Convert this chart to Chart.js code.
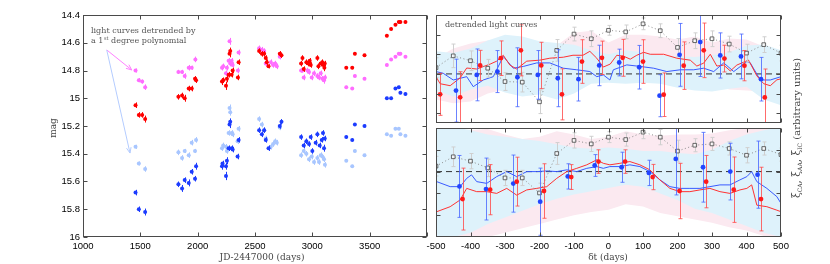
<!DOCTYPE html>
<html>
<head>
<meta charset="utf-8">
<script src="https://cdn.jsdelivr.net/npm/chart.js@4/dist/chart.umd.min.js"></script>
<style>
  body { margin: 0; background: #fff; width: 830px; height: 264px; overflow: hidden; }
  canvas { position: absolute; left: 0; top: 0; }
</style>
</head>
<body>
<canvas id="lightCurves" width="830" height="264"></canvas>
<canvas id="corrTop" width="830" height="264"></canvas>
<canvas id="corrBottom" width="830" height="264"></canvas>
<script>
// ---- left panel: light curves (JD-2447000, mag) ----
var JD_RED = [1458,1487,1516,1542,1832,1864,1887,1922,1948,1977,1986,2212,2223,2247,2255,2270,2278,2284,2296,2305,2351,2357,2536,2560,2580,2594,2603,2618,2716,2731,2902,2914,2925,2948,2966,2977,2986,3044,3053,3073,3087,3096,3105,3108,3296,3348,3371,3455,3650,3687,3725,3754,3768,3812];
var MAG_RED = [15.05,15.12,15.12,15.15,14.99,14.98,15.00,14.93,14.93,14.86,14.87,14.88,14.87,14.91,14.86,14.83,14.68,14.66,14.83,14.80,14.85,14.74,14.66,14.68,14.68,14.71,14.74,14.77,14.68,14.69,14.75,14.71,14.79,14.74,14.75,14.73,14.76,14.71,14.77,14.75,14.74,14.76,14.78,14.75,14.78,14.78,14.68,14.69,14.55,14.50,14.47,14.45,14.45,14.45];
var ERR_RED = [0.02,0.02,0.02,0.025,0.02,0.02,0.025,0.02,0.02,0.02,0.02,0.025,0.02,0.03,0.025,0.02,0.025,0.025,0.02,0.02,0.02,0.02,0.02,0.02,0.02,0.02,0.02,0.015,0.02,0.02,0.02,0.02,0.02,0.02,0.02,0.02,0.02,0.02,0.02,0.02,0.02,0.02,0.025,0.02,0.01,0.01,0.01,0.01,0.01,0.01,0.01,0.01,0.01,0.01];

var JD_VIOLET = [1458,1487,1516,1542,1832,1864,1887,1922,1948,1980,2212,2223,2247,2255,2270,2278,2284,2296,2305,2351,2357,2536,2560,2580,2594,2638,2658,2676,2690,2716,2902,2914,2925,2957,2971,2995,3015,3044,3058,3073,3087,3102,3110,3296,3348,3371,3455,3650,3687,3725,3754,3768,3812];
var MAG_VIOLET = [14.80,14.87,14.88,14.92,14.81,14.81,14.84,14.78,14.78,14.72,14.78,14.77,14.82,14.78,14.73,14.59,14.75,14.73,14.76,14.80,14.67,14.64,14.65,14.66,14.75,14.74,14.76,14.75,14.77,14.70,14.80,14.80,14.85,14.80,14.81,14.85,14.82,14.84,14.85,14.82,14.86,14.87,14.85,14.92,14.93,14.84,14.86,14.76,14.72,14.70,14.68,14.68,14.70];
var ERR_VIOLET = [0.015,0.015,0.015,0.02,0.015,0.015,0.02,0.02,0.015,0.02,0.02,0.02,0.02,0.02,0.02,0.025,0.02,0.02,0.02,0.02,0.02,0.02,0.02,0.02,0.02,0.02,0.02,0.02,0.02,0.02,0.015,0.015,0.02,0.02,0.02,0.02,0.02,0.02,0.02,0.02,0.02,0.025,0.02,0.01,0.01,0.01,0.01,0.01,0.01,0.01,0.01,0.01,0.01];

var JD_BLUE = [1458,1487,1542,1832,1864,1887,1922,1948,1977,1986,2212,2217,2247,2247,2255,2270,2278,2284,2296,2305,2348,2357,2536,2560,2580,2594,2618,2716,2731,2902,2925,2948,2971,2986,3000,3029,3044,3064,3082,3093,3102,3108,3296,3348,3371,3455,3650,3687,3725,3754,3768,3812];
var MAG_BLUE = [15.68,15.80,15.82,15.62,15.65,15.59,15.61,15.53,15.58,15.49,15.49,15.47,15.49,15.56,15.45,15.36,15.19,15.17,15.36,15.37,15.42,15.30,15.23,15.26,15.23,15.30,15.36,15.20,15.17,15.28,15.34,15.31,15.33,15.28,15.38,15.32,15.26,15.34,15.30,15.25,15.36,15.29,15.28,15.30,15.19,15.20,15.00,15.00,14.93,14.92,14.96,14.97];
var ERR_BLUE = [0.02,0.02,0.025,0.02,0.025,0.02,0.025,0.02,0.02,0.025,0.025,0.02,0.025,0.03,0.025,0.02,0.025,0.025,0.02,0.02,0.02,0.02,0.02,0.02,0.02,0.02,0.02,0.02,0.02,0.02,0.02,0.02,0.02,0.02,0.02,0.02,0.02,0.02,0.02,0.02,0.025,0.02,0.01,0.01,0.01,0.01,0.01,0.01,0.01,0.01,0.01,0.01];

var JD_LIGHT = [1458,1487,1542,1832,1864,1887,1922,1948,1977,1986,2212,2223,2247,2255,2270,2278,2284,2296,2305,2348,2357,2536,2560,2580,2594,2638,2658,2676,2690,2716,2902,2925,2948,2971,2995,3015,3044,3058,3073,3087,3102,3110,3296,3348,3371,3455,3650,3687,3725,3754,3768,3812];
var MAG_LIGHT = [15.35,15.47,15.51,15.39,15.43,15.38,15.41,15.32,15.38,15.30,15.36,15.34,15.35,15.38,15.25,15.07,15.10,15.25,15.26,15.31,15.22,15.15,15.19,15.23,15.29,15.35,15.33,15.31,15.32,15.21,15.41,15.38,15.40,15.44,15.42,15.46,15.43,15.46,15.41,15.42,15.44,15.48,15.45,15.49,15.38,15.41,15.26,15.27,15.22,15.22,15.26,15.27];
var ERR_LIGHT = [0.015,0.015,0.02,0.02,0.02,0.015,0.02,0.02,0.015,0.02,0.02,0.02,0.02,0.02,0.02,0.025,0.025,0.02,0.02,0.02,0.02,0.02,0.02,0.02,0.02,0.02,0.02,0.02,0.02,0.02,0.02,0.02,0.02,0.02,0.02,0.02,0.02,0.02,0.02,0.02,0.02,0.02,0.01,0.01,0.01,0.01,0.01,0.01,0.01,0.01,0.01,0.01];

var JD_TICKS = [1000,1500,2000,2500,3000,3500,4000];
var JD_LABELS = [1000,1500,2000,2500,3000,3500];   // 4000 has a tick but no label
var MAG_TICKS = [14.4,14.6,14.8,15,15.2,15.4,15.6,15.8,16];
// arrow annotation: start, magenta tip, light blue tip (JD, mag)
var ARROW_FROM = [1207, 14.652];
var ARROW_TO_VIOLET = [1425, 14.796];
var ARROW_TO_LIGHT = [1410, 15.395];

// ---- right panels: detrended correlations (delta t in days) ----
var LAG_TICKS = [-500,-400,-300,-200,-100,0,100,200,300,400,500];
var GREY_DAYS = [-500,-450,-400,-350,-300,-250,-200,-150,-100,-50,0,50,100,150,200,250,300,350,400,450,500];
var BAND_DAYS = [-500,-450,-400,-350,-300,-250,-200,-150,-100,-50,0,50,100,150,200,250,300,350,400,450,500];

var TOP_GREY_VAL = [0.32,0.92,0.67,0.29,-0.39,-0.42,-1.42,1.2,2.03,1.79,2.22,2.14,2.55,2.2,1.35,1.69,1.79,1.52,1.06,1.49,1.06];
var TOP_GREY_ERR = [0.5,0.6,0.5,0.45,0.45,0.5,0.6,0.55,0.35,0.4,0.25,0.35,0.3,0.35,0.45,0.4,0.4,0.4,0.45,0.4,0.4];
var TOP_RED_DAYS = [-488,-430,-372,-312,-254,-195,-135,-77,-19,41,100,160,218,276,336,394,453];
var TOP_RED_VAL = [-1.04,-1.19,0.43,0.80,1.2,0.43,-1.04,0.63,0.82,0.82,0.63,-1.06,0.42,1.2,0.78,0.42,-1.2];
var TOP_RED_ERR = [1.07,1.3,0.77,0.88,1.3,1.18,1.3,1.11,0.85,0.94,1.11,1.11,1.21,1.39,0.68,0.77,1.45];
var TOP_BLUE_DAYS = [-442,-382,-322,-264,-205,-147,-87,-27,31,89,148,206,266,324,384,442];
var TOP_BLUE_VAL = [-0.85,-0.05,0.12,-0.17,-0.05,-0.22,-0.27,0.43,0.58,0.34,-1.11,0.97,1.62,0.94,0.89,-0.27];
var TOP_BLUE_ERR = [1.6,1.32,1.07,1.5,1.24,1.45,1.11,1.03,0.68,1.11,1.07,1.6,1.75,1.15,1.14,1.11];
var TOP_REDLINE_DAYS = [-500,-488,-459,-430,-411,-382,-343,-324,-305,-286,-266,-237,-199,-170,-131,-103,-74,-54,-34,-15,5,24,44,63,82,102,121,160,198,237,256,276,295,314,334,353,372,392,406,430,450,469,488,500];
var TOP_REDLINE_VAL = [-0.14,-0.5,-0.6,-0.2,0.3,0.25,0.5,0.65,0.95,0.45,0.25,0.65,0.7,0.8,0.85,0.95,0.95,1.15,0.8,0.35,0.5,0.95,0.9,0.75,0.95,1.1,1.0,1.0,0.8,0.7,0.4,0.55,1.0,0.4,0.45,0.15,0.45,0.6,0.7,-0.1,-0.5,-0.6,-0.3,-0.25];
var TOP_BLUELINE_DAYS = [-500,-479,-450,-411,-392,-363,-334,-305,-276,-247,-208,-170,-131,-92,-54,-34,-15,4,14,53,92,131,169,208,247,276,305,334,363,401,411,440,469,500];
var TOP_BLUELINE_VAL = [0.12,0.03,-0.31,-0.14,-0.65,-0.31,-0.14,0.89,0.29,0.38,0.56,0.56,0.29,0.21,0.12,-0.14,-0.05,-0.31,0.21,0.46,0.38,0.29,0.12,0.21,0.21,0.29,0.12,0.56,0.12,0.63,0.56,-0.31,-0.31,-0.14];
var TOP_BLUEBAND_HI = [1.15,1.06,1.3,1.7,2.0,1.9,1.66,1.57,1.49,1.2,1.0,1.2,1.1,0.95,0.9,0.86,0.95,1.1,1.45,1.5,1.2];
var TOP_BLUEBAND_LO = [-0.85,-1.15,-0.8,-0.6,-0.95,-1.15,-1.05,-1.3,-1.0,-0.5,-0.45,-0.5,-0.45,-0.5,-0.7,-0.85,-0.9,-0.75,-0.65,-1.3,-1.6];
var TOP_PINKBAND_HI = [0.8,1.3,1.55,1.7,1.75,1.6,1.55,1.45,2.1,2.2,1.6,2.0,2.0,1.9,1.75,1.9,1.6,1.8,1.75,1.4,1.15];
var TOP_PINKBAND_LO = [-1.3,-1.5,-1.4,-1.0,-0.8,-0.7,-0.55,-0.5,-0.45,-0.35,-0.2,-0.2,-0.3,-0.25,-0.2,-0.3,-0.5,-0.8,-0.85,-0.9,-0.7];

var BOT_GREY_VAL = [0.25,0.68,0.48,0.17,-0.29,-0.29,-0.98,0.83,1.43,1.27,1.58,1.47,1.81,1.58,0.94,1.21,1.27,1.06,0.75,1.06,0.78];
var BOT_GREY_ERR = [0.45,0.45,0.35,0.4,0.35,0.35,0.45,0.5,0.35,0.35,0.25,0.3,0.3,0.35,0.5,0.3,0.3,0.3,0.35,0.3,0.3];
var BOT_RED_DAYS = [-423,-343,-266,-187,-108,-29,48,128,206,283,363,442];
var BOT_RED_VAL = [-1.26,-0.83,-0.46,-0.89,-0.25,0.46,0.46,-0.25,-0.89,-0.46,-0.83,-1.26];
var BOT_RED_ERR = [1.42,1.15,1.12,1.25,0.57,0.54,0.54,0.58,1.27,1.2,1.5,1.46];
var BOT_BLUE_DAYS = [-432,-355,-276,-198,-118,-40,38,117,195,274,353,432];
var BOT_BLUE_VAL = [-0.68,-0.80,-0.55,-1.38,-0.22,0.28,0.2,-0.06,0.58,0.2,0,-0.14];
var BOT_BLUE_ERR = [1.42,1.42,1.31,1.54,0.58,0.5,0.69,0.58,1.65,1.6,1.3,1.54];
var BOT_REDLINE_DAYS = [-498,-459,-430,-411,-382,-353,-324,-295,-266,-237,-208,-179,-150,-121,-92,-63,-34,-15,4,33,62,91,120,149,178,207,236,265,294,323,352,381,401,415,430,459,488,500];
var BOT_REDLINE_VAL = [-1.84,-1.61,-1.3,-0.77,-0.92,-0.92,-1.0,-0.77,-1.08,-0.84,-0.77,-0.69,-0.31,0.0,0.15,0.31,0.54,0.38,0.31,0.38,0.46,0.31,0.08,-0.38,-0.77,-0.92,-0.92,-0.84,-0.77,-0.92,-1.0,-0.84,-0.77,-0.61,-1.54,-1.61,-1.77,-1.84];
var BOT_BLUELINE_DAYS = [-498,-459,-430,-411,-397,-382,-353,-324,-295,-266,-237,-208,-179,-150,-121,-92,-63,-34,-15,4,33,62,91,120,149,178,207,236,265,294,323,352,381,401,415,430,459,488,500];
var BOT_BLUELINE_VAL = [-0.46,-0.69,-0.69,-0.31,-0.15,-0.46,-0.54,-0.23,0.0,-0.23,0.0,0.0,0.03,0.0,0.08,0.0,0.15,0.23,0.15,0.23,0.23,0.31,0.23,0.0,-0.38,-0.69,-0.77,-0.77,-0.77,-0.69,-0.61,-0.61,-0.38,-0.23,0.0,-0.46,-0.77,-1.15,-1.46];
var BOT_BLUEBAND_HI = [2.05,2.05,1.9,1.7,1.6,1.5,1.4,1.25,1.1,1.05,1.1,1.05,0.95,0.95,0.85,0.8,1.0,1.4,1.7,1.9,2.05];
var BOT_BLUEBAND_LO = [-3,-3,-2.8,-2.4,-2.1,-1.8,-1.5,-1.25,-1.05,-0.9,-0.75,-0.6,-0.7,-1.0,-1.3,-1.7,-1.9,-2.2,-2.5,-2.8,-3];
var BOT_PINKBAND_HI = [1.8,1.85,1.9,1.95,1.7,1.5,1.6,1.85,1.7,1.5,1.6,1.85,1.7,1.65,1.7,1.7,1.75,1.9,2.0,2.0,1.8];
var BOT_PINKBAND_LO = [-3,-3,-3,-3,-2.8,-2.6,-2.4,-2.2,-2.0,-1.85,-1.75,-1.5,-1.6,-1.9,-2.05,-2.2,-2.35,-2.55,-2.7,-2.95,-3];
var ZERO_LEVEL = 0;
var TOP_VAL_TICKS = [-2,-1,0,1,2];
var BOT_VAL_TICKS = [-2,-1,0,1];

var SANS = '"Liberation Sans", Arial, sans-serif';
var SERIF = '"DejaVu Serif", serif';

function pts(xs, ys) {
  return xs.map(function (x, i) { return { x: x, y: ys[i] }; });
}

// vertical error bars, drawn just under each dataset's points
var errorBars = {
  id: 'errorBars',
  beforeDatasetDraw: function (chart, args) {
    var ds = chart.data.datasets[args.index];
    if (!ds.errors) return;
    var ctx = chart.ctx, xs = chart.scales.x, ys = chart.scales.y, a = chart.chartArea;
    ctx.save();
    ctx.beginPath();
    ctx.rect(a.left, a.top, a.right - a.left, a.bottom - a.top);
    ctx.clip();
    ctx.strokeStyle = ds.errorColor;
    ctx.lineWidth = 1;
    ds.data.forEach(function (p, i) {
      var px = Math.round(xs.getPixelForValue(p.x)) + 0.5;
      var y1 = ys.getPixelForValue(p.y - ds.errors[i]);
      var y2 = ys.getPixelForValue(p.y + ds.errors[i]);
      ctx.beginPath();
      ctx.moveTo(px, y1);
      ctx.lineTo(px, y2);
      if (ds.capWidth) {
        ctx.moveTo(px - ds.capWidth, y1); ctx.lineTo(px + ds.capWidth, y1);
        ctx.moveTo(px - ds.capWidth, y2); ctx.lineTo(px + ds.capWidth, y2);
      }
      ctx.stroke();
    });
    ctx.restore();
  }
};

// box frame with inward ticks on all four sides
function frame(xTicks, yTicks) {
  return {
    id: 'frame',
    afterDraw: function (chart) {
      var ctx = chart.ctx, a = chart.chartArea, xs = chart.scales.x, ys = chart.scales.y;
      var L = Math.round(a.left) + 0.5, R = Math.round(a.right) - 0.5;
      var T = Math.round(a.top) + 0.5, B = Math.round(a.bottom) - 0.5;
      ctx.save();
      ctx.strokeStyle = '#4a4a4a';
      ctx.lineWidth = 1;
      ctx.strokeRect(L, T, R - L, B - T);
      ctx.beginPath();
      xTicks.forEach(function (v) {
        var px = Math.round(xs.getPixelForValue(v)) + 0.5;
        ctx.moveTo(px, B); ctx.lineTo(px, B - 4);
        ctx.moveTo(px, T); ctx.lineTo(px, T + 4);
      });
      yTicks.forEach(function (v) {
        var py = Math.round(ys.getPixelForValue(v)) + 0.5;
        ctx.moveTo(L, py); ctx.lineTo(L + 4, py);
        ctx.moveTo(R, py); ctx.lineTo(R - 4, py);
      });
      ctx.stroke();
      ctx.restore();
    }
  };
}

function arrow(ctx, x0, y0, x1, y1, colour) {
  var ang = Math.atan2(y1 - y0, x1 - x0), h = 6;
  ctx.save();
  ctx.strokeStyle = colour;
  ctx.lineWidth = 1;
  ctx.beginPath();
  ctx.moveTo(x0, y0); ctx.lineTo(x1, y1);
  ctx.moveTo(x1 - h * Math.cos(ang - 0.4), y1 - h * Math.sin(ang - 0.4));
  ctx.lineTo(x1, y1);
  ctx.lineTo(x1 - h * Math.cos(ang + 0.4), y1 - h * Math.sin(ang + 0.4));
  ctx.stroke();
  ctx.restore();
}

var baseOpts = {
  responsive: false, animation: false, devicePixelRatio: 1,
  events: [],
  plugins: { legend: { display: false }, tooltip: { enabled: false } }
};

// ---------------- left chart ----------------
function lcSet(xs, ys, errs, colour) {
  return { data: pts(xs, ys), errors: errs, errorColor: colour, backgroundColor: colour,
           borderColor: colour, pointRadius: 2, borderWidth: 0 };
}

new Chart(document.getElementById('lightCurves'), {
  type: 'scatter',
  data: { datasets: [
    lcSet(JD_RED, MAG_RED, ERR_RED, '#ff0000'),
    lcSet(JD_BLUE, MAG_BLUE, ERR_BLUE, '#1c3cff'),
    lcSet(JD_VIOLET, MAG_VIOLET, ERR_VIOLET, '#ff6cff'),
    lcSet(JD_LIGHT, MAG_LIGHT, ERR_LIGHT, '#a8c6ff')
  ] },
  options: Object.assign({}, baseOpts, {
    layout: { padding: { left: 0, top: 15, right: 403, bottom: 0 } },
    scales: {
      x: { type: 'linear', min: 1000, max: 4000,
           afterFit: function (s) { s.height = 27; },
           grid: { display: false, drawTicks: false }, border: { display: false },
           afterBuildTicks: function (s) { s.ticks = JD_LABELS.map(function (v) { return { value: v }; }); },
           ticks: { padding: 4, color: '#000', maxRotation: 0, autoSkip: false,
                    font: { family: SANS, size: 9.5 }, callback: function (v) { return String(v); } } },
      y: { type: 'linear', reverse: true, min: 14.4, max: 16,
           afterFit: function (s) { s.width = 83; },
           grid: { display: false, drawTicks: false }, border: { display: false },
           afterBuildTicks: function (s) { s.ticks = MAG_TICKS.map(function (v) { return { value: v }; }); },
           ticks: { padding: 3, color: '#000', autoSkip: false,
                    font: { family: SANS, size: 9.5 }, callback: function (v) { return String(parseFloat(v.toFixed(1))); } } }
    }
  }),
  plugins: [errorBars, frame(JD_TICKS, MAG_TICKS), {
    id: 'leftText',
    afterDraw: function (chart) {
      var ctx = chart.ctx, xs = chart.scales.x, ys = chart.scales.y;
      var x0 = xs.getPixelForValue(ARROW_FROM[0]), y0 = ys.getPixelForValue(ARROW_FROM[1]);
      arrow(ctx, x0, y0, xs.getPixelForValue(ARROW_TO_VIOLET[0]), ys.getPixelForValue(ARROW_TO_VIOLET[1]), '#ff80ff');
      arrow(ctx, x0, y0, xs.getPixelForValue(ARROW_TO_LIGHT[0]), ys.getPixelForValue(ARROW_TO_LIGHT[1]), '#b4ccff');
      ctx.save();
      ctx.fillStyle = '#555';
      ctx.font = '8px ' + SERIF;
      ctx.textBaseline = 'alphabetic';
      ctx.fillText('light curves detrended by', 91, 33);
      var w = ctx.measureText('a 1').width;
      ctx.fillText('a 1', 91, 43);
      ctx.font = '5px ' + SERIF;
      ctx.fillText('st', 91 + w + 0.5, 39.5);
      var w2 = ctx.measureText('st').width;
      ctx.font = '8px ' + SERIF;
      ctx.fillText(' degree polynomial', 91 + w + w2 + 0.5, 43);
      // axis titles
      ctx.fillStyle = '#444';
      ctx.font = '9px ' + SERIF;
      ctx.textAlign = 'center';
      ctx.fillText('JD-2447000 (days)', 262, 260);
      ctx.translate(56, 128);
      ctx.rotate(-Math.PI / 2);
      ctx.fillText('mag', 0, 0);
      ctx.restore();
    }
  }]
});

// ---------------- right charts ----------------
function corrSets(p) {
  return [
    { type: 'scatter', data: pts(p.redDays, p.redVal), errors: p.redErr, errorColor: 'rgba(255,70,70,0.8)', capWidth: 2,
      backgroundColor: '#ff1a1a', borderWidth: 0, pointRadius: 2.4, order: 0 },
    { type: 'scatter', data: pts(p.blueDays, p.blueVal), errors: p.blueErr, errorColor: 'rgba(70,100,255,0.8)', capWidth: 2,
      backgroundColor: '#2144ff', borderWidth: 0, pointRadius: 2.4, order: 1 },
    { type: 'line', data: pts(GREY_DAYS, p.greyVal), errors: p.greyErr, errorColor: '#cfcfcf', capWidth: 2,
      showLine: true, borderColor: '#8c8c8c', borderWidth: 1, borderDash: [1, 2.5],
      pointStyle: 'rect', pointRadius: 2.6, pointBorderColor: '#444', pointBorderWidth: 0.8,
      pointBackgroundColor: 'rgba(255,255,255,0.7)', fill: false, order: 2 },
    { type: 'line', data: pts(p.redLineDays, p.redLineVal), borderColor: '#ff3333', borderWidth: 1,
      pointRadius: 0, fill: false, order: 3 },
    { type: 'line', data: pts(p.blueLineDays, p.blueLineVal), borderColor: '#3a5aff', borderWidth: 1,
      pointRadius: 0, fill: false, order: 4 },
    { type: 'line', data: pts([-500, 500], [ZERO_LEVEL, ZERO_LEVEL]), borderColor: '#333', borderWidth: 1,
      borderDash: [6, 4], pointRadius: 0, fill: false, order: 5 },
    { type: 'line', data: pts(BAND_DAYS, p.blueHi), borderWidth: 0, pointRadius: 0,
      backgroundColor: '#def2fb', fill: '+1', order: 8 },
    { type: 'line', data: pts(BAND_DAYS, p.blueLo), borderWidth: 0, pointRadius: 0, fill: false, order: 8 },
    { type: 'line', data: pts(BAND_DAYS, p.pinkHi), borderWidth: 0, pointRadius: 0,
      backgroundColor: '#fbe9f0', fill: '+1', order: 9 },
    { type: 'line', data: pts(BAND_DAYS, p.pinkLo), borderWidth: 0, pointRadius: 0, fill: false, order: 9 }
  ];
}

function corrChart(id, p) {
  return new Chart(document.getElementById(id), {
    type: 'scatter',
    data: { datasets: corrSets(p) },
    options: Object.assign({}, baseOpts, {
      layout: { padding: p.padding },
      scales: {
        x: { type: 'linear', min: -500, max: 500, display: p.showX,
             afterFit: function (s) { s.height = p.showX ? 27 : 0; },
             grid: { display: false, drawTicks: false }, border: { display: false },
             afterBuildTicks: function (s) { s.ticks = LAG_TICKS.map(function (v) { return { value: v }; }); },
             ticks: { padding: 4, color: '#000', maxRotation: 0, autoSkip: false,
                      font: { family: SANS, size: 9.5 }, callback: function (v) { return String(v); } } },
        y: { type: 'linear', min: p.yMin, max: p.yMax, display: false,
             afterFit: function (s) { s.width = 0; } }
      }
    }),
    plugins: [errorBars, frame(LAG_TICKS, p.yTicks), { id: 'corrText', afterDraw: p.text }]
  });
}

corrChart('corrTop', {
  padding: { left: 436, top: 15, right: 49, bottom: 141 }, showX: false, yMin: -2.5, yMax: 3.0, yTicks: TOP_VAL_TICKS,
  greyVal: TOP_GREY_VAL, greyErr: TOP_GREY_ERR,
  redDays: TOP_RED_DAYS, redVal: TOP_RED_VAL, redErr: TOP_RED_ERR,
  blueDays: TOP_BLUE_DAYS, blueVal: TOP_BLUE_VAL, blueErr: TOP_BLUE_ERR,
  redLineDays: TOP_REDLINE_DAYS, redLineVal: TOP_REDLINE_VAL,
  blueLineDays: TOP_BLUELINE_DAYS, blueLineVal: TOP_BLUELINE_VAL,
  blueHi: TOP_BLUEBAND_HI, blueLo: TOP_BLUEBAND_LO, pinkHi: TOP_PINKBAND_HI, pinkLo: TOP_PINKBAND_LO,
  text: function (chart) {
    var ctx = chart.ctx;
    ctx.save();
    ctx.fillStyle = '#555';
    ctx.font = '8px ' + SERIF;
    ctx.fillText('detrended light curves', 445, 27);
    ctx.restore();
  }
});

corrChart('corrBottom', {
  padding: { left: 436, top: 128, right: 49, bottom: 0 }, showX: true, yMin: -3, yMax: 2, yTicks: BOT_VAL_TICKS,
  greyVal: BOT_GREY_VAL, greyErr: BOT_GREY_ERR,
  redDays: BOT_RED_DAYS, redVal: BOT_RED_VAL, redErr: BOT_RED_ERR,
  blueDays: BOT_BLUE_DAYS, blueVal: BOT_BLUE_VAL, blueErr: BOT_BLUE_ERR,
  redLineDays: BOT_REDLINE_DAYS, redLineVal: BOT_REDLINE_VAL,
  blueLineDays: BOT_BLUELINE_DAYS, blueLineVal: BOT_BLUELINE_VAL,
  blueHi: BOT_BLUEBAND_HI, blueLo: BOT_BLUEBAND_LO, pinkHi: BOT_PINKBAND_HI, pinkLo: BOT_PINKBAND_LO,
  text: function (chart) {
    var ctx = chart.ctx;
    ctx.save();
    ctx.fillStyle = '#444';
    ctx.font = '9px ' + SERIF;
    ctx.textAlign = 'center';
    ctx.fillText('\u03b4t (days)', 608, 260);
    // vertical label with subscripts
    var parts = [['\u03be', 10.5], ['CA', 6], [', \u03be', 10.5], ['AA', 6], [', \u03be', 10.5], ['IC', 6], [' (arbitrary units)', 10]];
    ctx.textAlign = 'left';
    var total = 0;
    parts.forEach(function (p) { ctx.font = p[1] + 'px ' + SERIF; total += ctx.measureText(p[0]).width; });
    ctx.translate(800, 128);
    ctx.rotate(-Math.PI / 2);
    var x = -total / 2;
    parts.forEach(function (p) {
      ctx.font = p[1] + 'px ' + SERIF;
      ctx.fillText(p[0], x, p[1] < 10 ? 2 : 0);
      x += ctx.measureText(p[0]).width;
    });
    ctx.restore();
  }
});
</script>
</body>
</html>
